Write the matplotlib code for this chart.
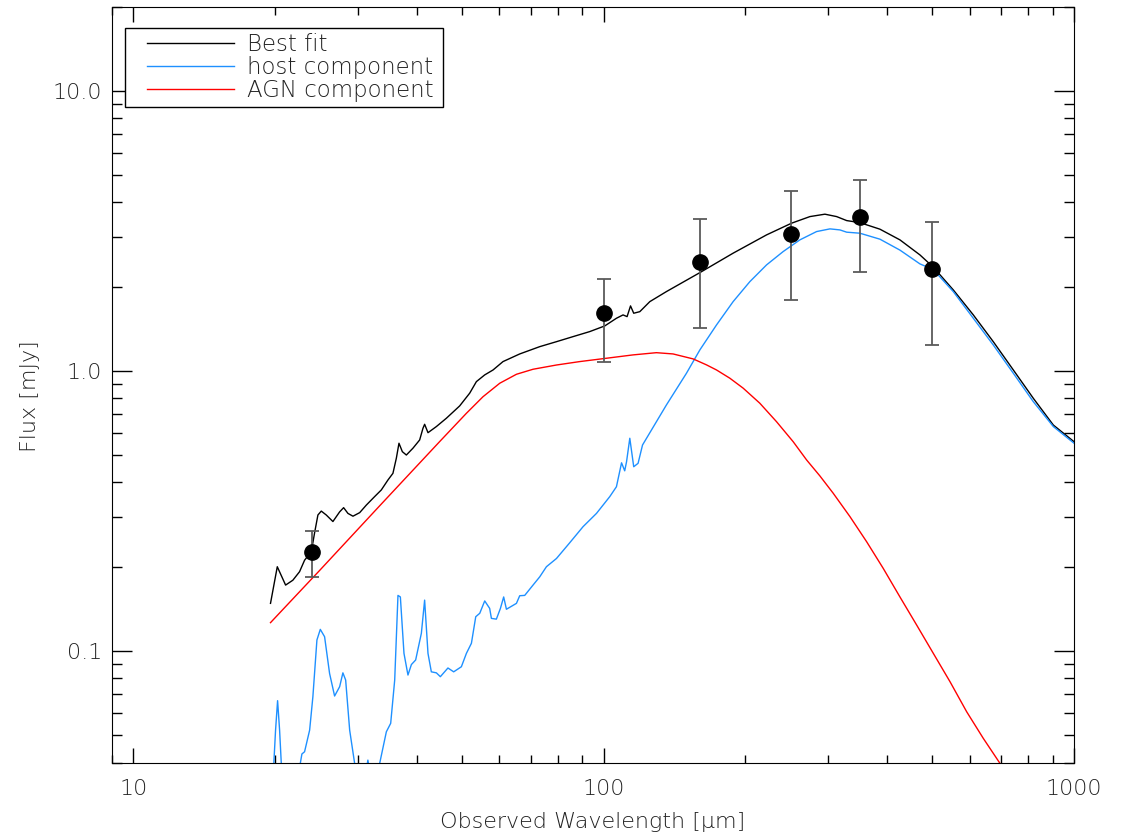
import matplotlib
matplotlib.use("Agg")
import matplotlib.pyplot as plt
from matplotlib.patches import Rectangle

# best fit model
wav_best = [19.56, 20.22, 21.06, 21.82, 22.55, 23.11, 23.88, 24.27, 24.67, 25.08,
            25.70, 26.55, 27.44, 27.98, 28.58, 29.29, 30.27, 31.27, 32.57, 33.65,
            34.76, 35.62, 36.22, 36.69, 37.30, 38.04, 39.29, 40.60, 41.26, 41.60,
            42.29, 44.06, 46.28, 49.38, 51.87, 53.6, 55.83, 58.15, 61.06, 66.27,
            73.08, 79.33, 86.04, 93.37, 100.5, 106.4, 109.9, 112.1, 114.0, 115.8,
            119.3, 125.3, 135.9, 160.1, 188.4, 221.9, 250.8, 274.4, 295.3, 312.7,
            328.5, 350.4, 386.6, 426.4, 470.2, 502.1, 553.6, 610.7, 673.4, 742.9,
            819.1, 903.6, 1000]
flux_best = [0.148, 0.200, 0.172, 0.179, 0.192, 0.211, 0.226, 0.264, 0.306, 0.316,
             0.306, 0.290, 0.314, 0.325, 0.310, 0.303, 0.312, 0.332, 0.356, 0.376,
             0.408, 0.431, 0.488, 0.552, 0.515, 0.501, 0.530, 0.567, 0.624, 0.645,
             0.602, 0.633, 0.678, 0.750, 0.833, 0.916, 0.968, 1.008, 1.080, 1.150,
             1.221, 1.272, 1.326, 1.382, 1.448, 1.542, 1.585, 1.563, 1.707, 1.607,
             1.628, 1.768, 1.920, 2.244, 2.633, 3.060, 3.369, 3.557, 3.628, 3.557,
             3.442, 3.385, 3.207, 2.937, 2.596, 2.346, 1.947, 1.585, 1.272, 1.008,
             0.799, 0.641, 0.559]

# host galaxy component
wav_host = [19.56, 19.88, 20.05, 20.25, 20.45, 20.62, 21.47, 22.63, 22.81, 23.11,
            23.69, 24.07, 24.55, 24.96, 25.49, 26.12, 26.77, 27.44, 27.88, 28.26,
            28.82, 29.53, 30.55, 31.51, 32.41, 33.38, 34.49, 35.23, 35.93, 36.51,
            36.94, 37.60, 38.34, 38.99, 39.81, 40.94, 41.60, 42.29, 42.99, 44.06,
            44.93, 46.63, 47.96, 49.80, 51.04, 52.31, 53.43, 54.49, 55.83, 57.2,
            57.69, 59.11, 60.29, 61.26, 62.09, 65.21, 66.27, 67.91, 70.73, 73.08,
            75.52, 79.33, 84.66, 90.36, 96.49, 103.0, 106.4, 109.1, 110.8, 111.8,
            113.6, 115.8, 118.3, 120.9, 123.3, 135.9, 149.9, 160.1, 173.7, 188.4,
            204.5, 221.9, 240.7, 261.2, 283.5, 302.7, 317.8, 328.5, 350.4, 386.6,
            426.4, 470.2, 502.1, 553.6, 610.7, 673.4, 742.9, 819.1, 903.6, 1000]
flux_host = [0.02, 0.0397, 0.0522, 0.0665, 0.0522, 0.0397, 0.02, 0.0397, 0.0429, 0.0437,
             0.0522, 0.0687, 0.1095, 0.1195, 0.1125, 0.0832, 0.0691, 0.0746, 0.0836, 0.0788,
             0.0522, 0.0397, 0.03, 0.0408, 0.03, 0.0397, 0.0515, 0.0552, 0.0788, 0.158,
             0.156, 0.0981, 0.0821, 0.0895, 0.0929, 0.1157, 0.152, 0.0981, 0.0843, 0.0836,
             0.0810, 0.0870, 0.0843, 0.0879, 0.0981, 0.1066, 0.1326, 0.1364, 0.151, 0.142,
             0.1308, 0.130, 0.142, 0.156, 0.141, 0.148, 0.1576, 0.158, 0.172, 0.184,
             0.200, 0.214, 0.2436, 0.278, 0.310, 0.356, 0.386, 0.470, 0.440, 0.474,
             0.575, 0.455, 0.468, 0.544, 0.575, 0.756, 0.981, 1.189, 1.460, 1.768,
             2.084, 2.391, 2.668, 2.937, 3.145, 3.215, 3.188, 3.129, 3.103, 2.954,
             2.70, 2.411, 2.30, 1.920, 1.542, 1.238, 0.981, 0.777, 0.633, 0.552]

# AGN component
wav_agn = [19.56, 24.9, 33.38, 44.8, 51.04, 55.36, 60.1, 65.21, 70.73, 79.33,
           88.9, 101.3, 115.4, 129.4, 140.4, 154.9, 165.4, 173.7, 185.4, 197.9,
           214.7, 233.0, 252.8, 270.0, 288.1, 307.5, 333.8, 362.2, 392.9, 426.4,
           462.8, 502.1, 544.9, 591.2, 641.2, 696.0, 767.6]
flux_agn = [0.1263, 0.1943, 0.330, 0.560, 0.706, 0.809, 0.904, 0.973, 1.014, 1.050,
            1.080, 1.110, 1.141, 1.162, 1.150, 1.104, 1.051, 1.008, 0.942, 0.868,
            0.767, 0.659, 0.559, 0.481, 0.422, 0.366, 0.302, 0.2457, 0.1973, 0.156,
            0.1238, 0.0981, 0.0777, 0.0607, 0.0488, 0.0397, 0.03]

# photometry
obs_wav = [24, 100, 160, 250, 350, 500]
obs_flux = [0.226, 1.607, 2.457, 3.085, 3.539, 2.313]
obs_err = [0.042, 0.53, 1.03, 1.29, 1.28, 1.08]

plt.rcParams['font.family'] = ['DejaVu Sans']
plt.rcParams['font.weight'] = 'light'
plt.rcParams['axes.labelweight'] = 'light'

fig = plt.figure(figsize=(11.23, 8.36), dpi=100)
ax = fig.add_axes([0.0997, 0.0879, 0.8567, 0.9043])

ax.plot(wav_best, flux_best, color='black', lw=1.0, label='Best fit')
ax.plot(wav_host, flux_host, color='#1e90ff', lw=1.0, label='host component')
ax.plot(wav_agn, flux_agn, color='#ff0000', lw=1.0, label='AGN component')
ax.errorbar(obs_wav, obs_flux, yerr=obs_err, fmt='o', color='black', ms=11,
            ecolor='#5a5a5a', elinewidth=1.3, capsize=5, capthick=1.3, zorder=5)

ax.set_xscale('log')
ax.set_yscale('log')
ax.set_xlim(9, 1000)
ax.set_ylim(0.04, 20)

ax.set_xticks([10, 100, 1000])
ax.set_xticklabels(['10', '100', '1000'])
ax.set_yticks([0.1, 1, 10])
ax.set_yticklabels(['0.1', '1.0', '10.0'])

ax.tick_params(which='both', direction='in', top=True, right=True, labelsize=16,
               width=1.0, labelcolor='#222222')
ax.tick_params(axis='x', which='major', length=11, pad=12)
ax.tick_params(axis='x', which='minor', length=5.5)
ax.tick_params(axis='y', which='major', length=14.5, pad=7)
ax.tick_params(axis='y', which='minor', length=7)

ax.set_xlabel('Observed Wavelength [μm]', fontsize=16, color='#222222')
ax.set_ylabel('Flux [mJy]', fontsize=16, color='#222222')
ax.xaxis.set_label_coords(0.5, -0.065)
ax.yaxis.set_label_coords(-0.075, 0.485)

# legend: frame drawn separately so the line samples get more room on the left
ax.add_patch(Rectangle((0.0135, 0.8671), 0.3306, 0.1045, transform=ax.transAxes,
                       facecolor='white', edgecolor='black', lw=1.0, zorder=6))
leg = ax.legend(loc='upper left', bbox_to_anchor=(0.0364, 0.9653), borderaxespad=0,
                fontsize=16.5, frameon=False, handlelength=3.8, handletextpad=0.56,
                labelspacing=0.0, borderpad=0)
leg.set_zorder(7)
for t in leg.get_texts():
    t.set_color('#222222')

fig.savefig('out.png', dpi=100)
